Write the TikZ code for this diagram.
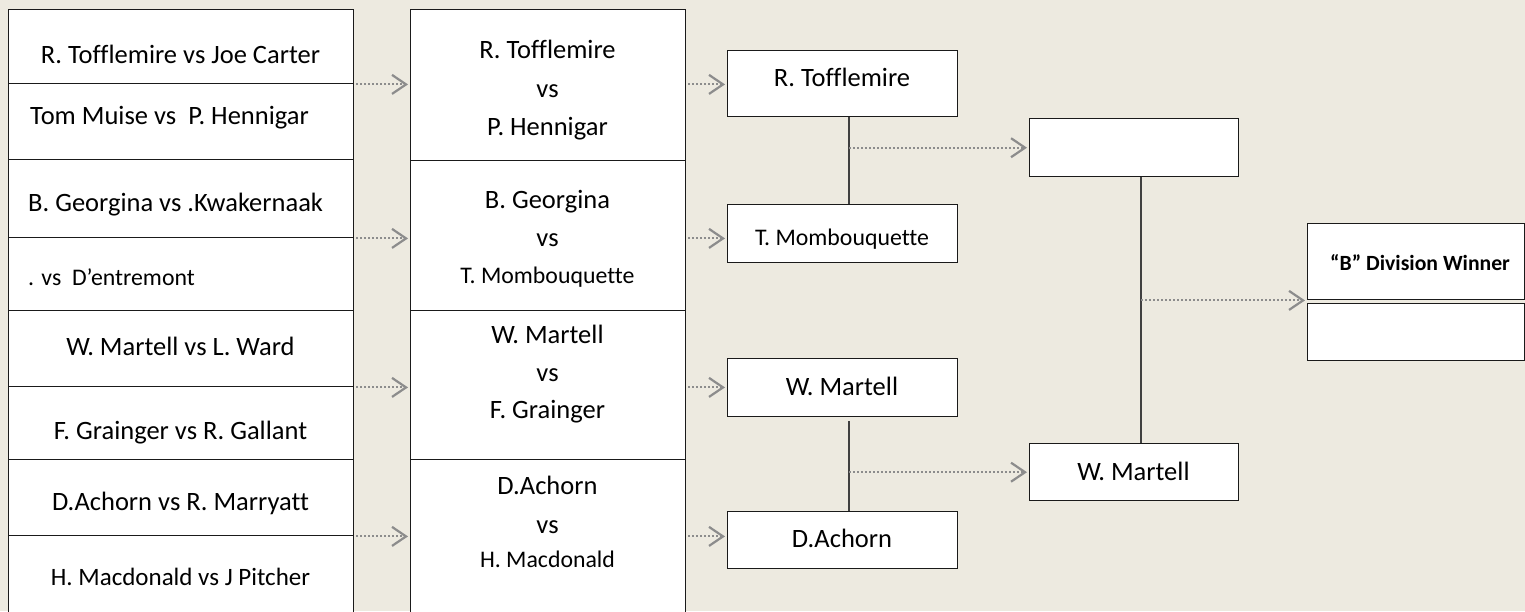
\documentclass[tikz,border=0pt]{standalone}
\usepackage{fontspec}
\setmainfont{Carlito}[Ligatures={NoCommon}]
\usetikzlibrary{arrows.meta,calc}
\definecolor{bg}{HTML}{EDEAE0}
\definecolor{arrgray}{HTML}{8C8C8C}
\definecolor{linkgray}{HTML}{404040}
\definecolor{edge}{HTML}{1A1A1A}
\begin{document}
\begin{tikzpicture}[x=1pt,y=-1pt,
  cell/.style={draw=edge, line width=1.4pt, fill=white, inner sep=0pt, anchor=north west},
  txt/.style={anchor=base, inner sep=0pt, font=\fontsize{26.5}{30}\selectfont},
  stxt/.style={anchor=base, inner sep=0pt, font=\fontsize{23.8}{28}\selectfont},
  ltxt/.style={txt, anchor=base west},
  sltxt/.style={stxt, anchor=base west},
  btxt/.style={anchor=base west, inner sep=0pt, font=\fontsize{21.7}{26}\selectfont\bfseries},
  adv/.style={draw=arrgray, line width=2pt, dash pattern=on 1.6pt off 2.4pt,
    -{Straight Barb[length=14pt,width=19pt,line width=2.2pt]}, shorten <=2pt, shorten >=2pt},
  link/.style={draw=linkgray, line width=2pt}]
\path[use as bounding box, fill=bg] (0,0) rectangle (1525,611);
% first column
\node[cell, minimum width=345, minimum height=74] (r1) at (8,9) {};
\node[cell, minimum width=345, minimum height=76] (r2) at (8,83) {};
\node[cell, minimum width=345, minimum height=78] (r3) at (8,159) {};
\node[cell, minimum width=345, minimum height=73] (r4) at (8,237) {};
\node[cell, minimum width=345, minimum height=76] (r5) at (8,310) {};
\node[cell, minimum width=345, minimum height=73] (r6) at (8,386) {};
\node[cell, minimum width=345, minimum height=76] (r7) at (8,459) {};
\node[cell, minimum width=345, minimum height=90] (r8) at (8,535) {};
\node[txt] (r1t) at (180.5,63) {R. Tofflemire vs Joe Carter};
\node[ltxt] (r2t) at (30,124) {Tom Muise vs\ \ P. Hennigar};
\node[ltxt] (r3t) at (28,211) {B. Georgina vs .Kwakernaak};
\node[sltxt] (r4t) at (28,285) {. vs\ \ D’entremont};
\node[txt] (r5t) at (180.5,355) {W. Martell vs L. Ward};
\node[txt] (r6t) at (180.5,439) {F. Grainger vs R. Gallant};
\node[txt] (r7t) at (180.5,510) {D.Achorn vs R. Marryatt};
\node[stxt, font=\fontsize{25}{29}\selectfont] (r8t) at (180.5,585) {H. Macdonald vs J Pitcher};
% second column
\node[cell, minimum width=275, minimum height=151] (c1) at (410,9) {};
\node[cell, minimum width=275, minimum height=150] (c2) at (410,160) {};
\node[cell, minimum width=275, minimum height=149] (c3) at (410,310) {};
\node[cell, minimum width=275, minimum height=170] (c4) at (410,459) {};
\node[txt] (c1a) at (547.5,58) {R. Tofflemire};
\node[txt] (c1b) at (547.5,97) {vs};
\node[txt] (c1c) at (547.5,135) {P. Hennigar};
\node[txt] (c2a) at (547.5,208) {B. Georgina};
\node[txt] (c2b) at (547.5,246) {vs};
\node[stxt] (c2c) at (547.5,283) {T. Mombouquette};
\node[txt] (c3a) at (547.5,343) {W. Martell};
\node[txt] (c3b) at (547.5,381) {vs};
\node[txt] (c3c) at (547.5,418) {F. Grainger};
\node[txt] (c4a) at (547.5,494) {D.Achorn};
\node[txt] (c4b) at (547.5,533) {vs};
\node[stxt] (c4c) at (547.5,567) {H. Macdonald};
% third column
\node[cell, minimum width=230, minimum height=66] (t1) at (727,50) {};
\node[cell, minimum width=230, minimum height=58] (t2) at (727,204) {};
\node[cell, minimum width=230, minimum height=58] (t3) at (727,358) {};
\node[cell, minimum width=230, minimum height=57] (t4) at (727,511) {};
\node[txt] (t1t) at (842,86) {R. Tofflemire};
\node[stxt] (t2t) at (842,245) {T. Mombouquette};
\node[txt] (t3t) at (842,395) {W. Martell};
\node[txt] (t4t) at (842,547) {D.Achorn};
% fourth column
\node[cell, minimum width=209, minimum height=58] (q1) at (1029,118) {};
\node[cell, minimum width=209, minimum height=57] (q2) at (1029,443) {};
\node[txt] (q2t) at (1133.5,480) {W. Martell};
% winner
\node[cell, minimum width=217, minimum height=76] (w1) at (1307,223) {};
\node[cell, minimum width=217, minimum height=57] (w2) at (1307,303) {};
\node[btxt] (w1t) at (1330,270) {“B” Division Winner};
% connectors column 1 -> 2
\draw[adv] (r1.south east) -- (r1.south east -| c1.west);
\draw[adv] (r3.south east) -- (r3.south east -| c2.west);
\draw[adv] (r5.south east) -- (r5.south east -| c3.west);
\draw[adv] (r7.south east) -- (r7.south east -| c4.west);
% column 2 -> 3
\draw[adv] (c1.east |- r1.south) -- (t1.west |- r1.south);
\draw[adv] (c2.east |- r3.south) -- (t2.west |- r3.south);
\draw[adv] (c3.east |- r5.south) -- (t3.west |- r5.south);
\draw[adv] (c4.east |- r7.south) -- (t4.west |- r7.south);
% column 3 -> 4
\coordinate (m1) at (849,0);
\coordinate (m2) at (1141,0);
\draw[link] (m1 |- t1.south) -- (m1 |- t2.north);
\draw[link, shorten <=4pt] (m1 |- t3.south) -- (m1 |- t4.north);
\draw[adv, shorten <=0pt] (m1 |- q1.west) -- (q1.west);
\draw[adv, shorten <=0pt] (m1 |- q2.west) -- (q2.west);
% column 4 -> winner
\draw[link] (m2 |- q1.south) -- (m2 |- q2.north);
\draw[adv, shorten <=0pt] (m2 |- w1.south west) -- (w1.south west);
\end{tikzpicture}
\end{document}
